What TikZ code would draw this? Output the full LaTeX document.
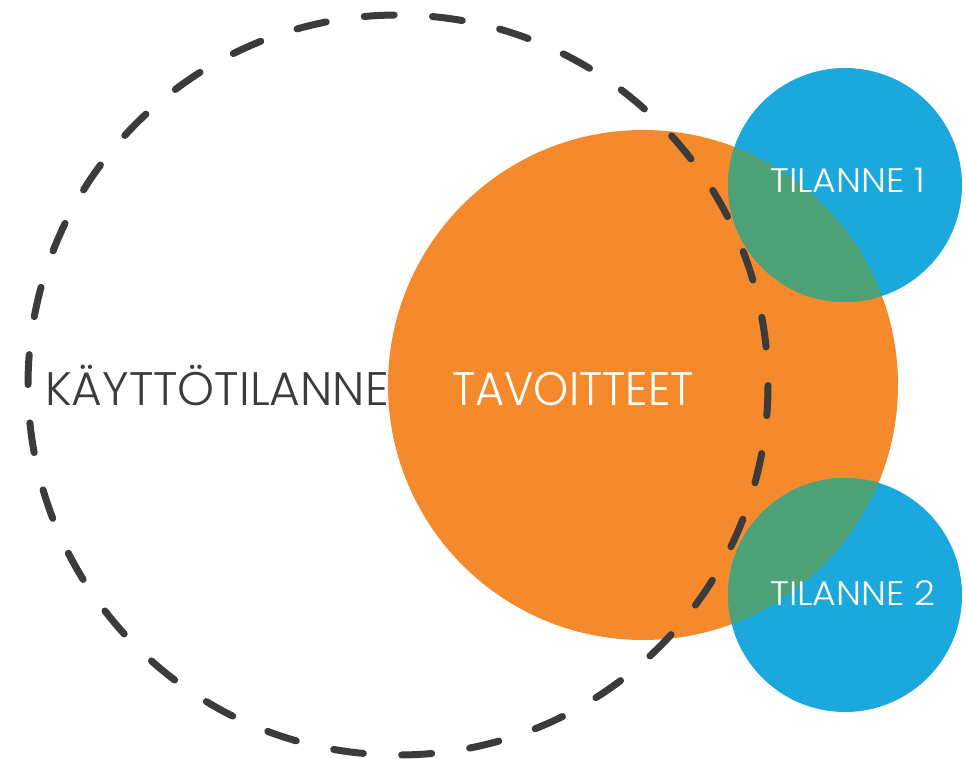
\documentclass[tikz,border=0pt]{standalone}
\usepackage{fontspec}
\IfFontExistsTF{Poppins Light}{\setmainfont{Poppins Light}}{\setmainfont{Poppins}}
\definecolor{goalorange}{HTML}{F58A2C}
\definecolor{casebblue}{HTML}{1AA8DD}
\definecolor{mixgreen}{HTML}{4CA176}
\definecolor{dashgray}{HTML}{3B3B3B}
\tikzset{
  bigtext/.style={font=\fontsize{47}{50}\selectfont, inner sep=0pt, anchor=base west},
  smalltext/.style={font=\fontsize{34}{36}\selectfont, inner sep=0pt, anchor=base west, text=white},
  usagering/.style={draw=dashgray, line width=7pt, line cap=round,
    dash pattern=on 30pt off 38.376pt, dash phase=67.8pt},
}
\begin{document}
\begin{tikzpicture}[x=1pt, y=-1pt]
  \useasboundingbox (0,0) rectangle (966,759);
  % goals circle
  \fill[goalorange] (643,385) circle[radius=255];
  % two situation circles
  \fill[casebblue] (845,185) circle[radius=117];
  \fill[casebblue] (845,595) circle[radius=117];
  % overlaps of goals and situations
  \begin{scope}
    \clip (643,385) circle[radius=255];
    \fill[mixgreen] (845,185) circle[radius=117];
    \fill[mixgreen] (845,595) circle[radius=117];
  \end{scope}
  % usage situation, dashed boundary
  \draw[usagering] (398,385) circle[radius=370];
  % labels
  \node[bigtext, text=dashgray] (usage) at (45,405) {KÄYTTÖTILANNE};
  \node[bigtext, text=white] (goals) at (452,405) {\scalebox{0.95}[1]{TAVOITTEET}};
  \node[smalltext] (case1) at (770,193) {\scalebox{1.07}[1]{TILANNE 1}};
  \node[smalltext] (case2) at (770,605) {\scalebox{1.07}[1]{TILANNE 2}};
\end{tikzpicture}
\end{document}
